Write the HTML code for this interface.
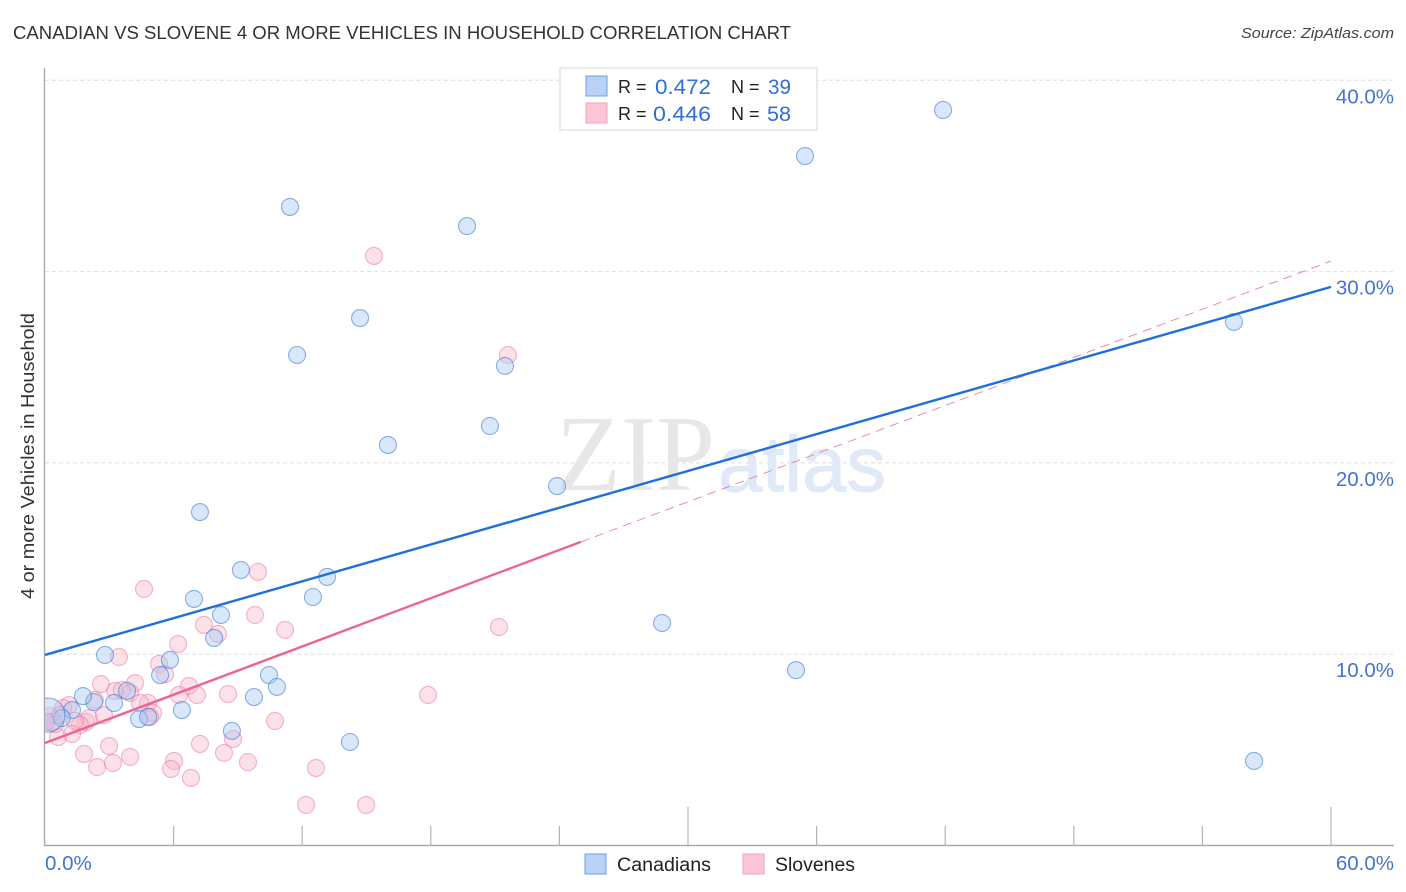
<!DOCTYPE html>
<html lang="en">
<head>
<meta charset="utf-8">
<title>Canadian vs Slovene 4 or more Vehicles in Household Correlation Chart</title>
<style>
html,body{margin:0;padding:0;background:#fff;width:1406px;height:892px;overflow:hidden}
svg{display:block;font-family:"Liberation Sans",sans-serif}
</style>
</head>
<body>
<svg id="chart" xmlns="http://www.w3.org/2000/svg" width="1406" height="892" viewBox="0 0 1406 892">
  <defs><clipPath id="plot-clip"><rect x="45" y="60" width="1350" height="785"/></clipPath></defs>
  <text x="13" y="39" font-size="18.5" fill="#333" textLength="778" lengthAdjust="spacingAndGlyphs">CANADIAN VS SLOVENE 4 OR MORE VEHICLES IN HOUSEHOLD CORRELATION CHART</text>
  <text x="1394" y="38" font-size="15" font-style="italic" fill="#444" text-anchor="end" textLength="153" lengthAdjust="spacingAndGlyphs">Source: ZipAtlas.com</text>
  <text transform="translate(34,456) rotate(-90)" font-size="18.5" fill="#333" text-anchor="middle" textLength="286" lengthAdjust="spacingAndGlyphs">4 or more Vehicles in Household</text>
  <g id="grid"></g>
  <text x="556" y="490" font-family="Liberation Serif, serif" font-size="108" fill="#e7e7e7" textLength="159" lengthAdjust="spacingAndGlyphs">ZIP</text>
  <text x="718" y="491" font-family="Liberation Sans, sans-serif" font-size="78" fill="#dfe9f8" stroke="#dfe9f8" stroke-width="1" textLength="168" lengthAdjust="spacingAndGlyphs">atlas</text>
  <g id="axes"></g>
  <g id="points" clip-path="url(#plot-clip)"></g>
  <g id="trends"></g>
  <g id="ylabels"></g>
  <text x="45" y="870" font-size="20.5" fill="#4275d2">0.0%</text>
  <text x="1394" y="870" font-size="20.5" fill="#4275d2" text-anchor="end">60.0%</text>
  <g>
    <rect x="560" y="68" width="257" height="62" fill="#fff" stroke="#dcdcdc" stroke-width="1.2"/>
    <rect x="586" y="76" width="21" height="20" fill="#b7d2f6" stroke="#6f9fdf" stroke-width="1"/>
    <rect x="586" y="103" width="21" height="20" fill="#fcc6d8" stroke="#f3a3bd" stroke-width="1"/>
    <text x="618" y="93" font-size="18" fill="#222">R =</text>
    <text x="655" y="94" font-size="21" fill="#2f6fd6" textLength="56" lengthAdjust="spacingAndGlyphs">0.472</text>
    <text x="731" y="93" font-size="18" fill="#222">N =</text>
    <text x="768" y="94" font-size="21" fill="#2f6fd6" textLength="23" lengthAdjust="spacingAndGlyphs">39</text>
    <text x="618" y="120" font-size="18" fill="#222">R =</text>
    <text x="653" y="121" font-size="21" fill="#2f6fd6" textLength="58" lengthAdjust="spacingAndGlyphs">0.446</text>
    <text x="731" y="120" font-size="18" fill="#222">N =</text>
    <text x="767" y="121" font-size="21" fill="#2f6fd6" textLength="24" lengthAdjust="spacingAndGlyphs">58</text>
  </g>
  <g>
    <rect x="585" y="854" width="21" height="20" fill="#b7d2f6" stroke="#6f9fdf" stroke-width="1"/>
    <text x="617" y="871" font-size="19" fill="#222" textLength="94" lengthAdjust="spacingAndGlyphs">Canadians</text>
    <rect x="743" y="854" width="21" height="20" fill="#fcc6d8" stroke="#f3a3bd" stroke-width="1"/>
    <text x="775" y="871" font-size="19" fill="#222" textLength="80" lengthAdjust="spacingAndGlyphs">Slovenes</text>
  </g>
</svg>
<script>
const yTickValues = [10, 20, 30, 40];
const yTickLabels = ["10.0%", "20.0%", "30.0%", "40.0%"];
const xTickValues = [6, 12, 18, 24, 30, 36, 42, 48, 54, 60];
const xMajorTicks = [30, 60];
const canadiansX = [41.90,35.46,11.43,19.69,14.70,11.76,21.46,20.76,16.00,23.89,7.23,9.14,13.16,6.95,12.50,8.21,7.89,28.79,2.80,5.83,5.37,35.04,10.45,10.82,9.75,6.39,55.47,56.41,14.23,8.72,4.39,4.81,3.22,2.29,1.77,3.83,1.26,0.79,0.14];
const canadiansY = [38.45,36.04,33.38,32.38,27.57,25.64,25.07,21.93,20.94,18.79,17.43,14.40,14.04,12.89,12.99,12.05,10.85,11.63,9.96,9.70,8.91,9.17,8.91,8.29,7.76,7.08,27.37,4.42,5.41,5.99,6.61,6.72,7.45,7.50,7.81,8.08,7.08,6.66,6.82];
const canadiansWeight = [1,1,1,1,1,1,1,1,1,1,1,1,1,1,1,1,1,1,1,1,1,1,1,1,1,1,1,1,1,1,1,1,1,1,1,1,1,1,2.0];
const slovenesX = [15.35,21.60,9.94,4.62,9.80,7.42,8.07,11.20,21.18,6.21,3.45,5.32,5.60,2.61,4.20,6.72,6.25,7.09,8.54,17.87,3.27,3.59,3.97,4.81,4.43,2.33,1.12,1.91,2.05,2.75,1.63,1.40,5.04,4.90,10.73,8.77,7.23,8.35,2.99,1.82,3.97,3.17,2.43,9.47,6.02,5.88,6.81,12.64,12.18,14.98,0.61,1.26,0.47,0.23,0.84,0.33,0.70,0.05];
const slovenesY = [30.82,25.64,14.30,13.41,12.05,11.53,11.06,11.27,11.42,10.53,9.85,9.49,8.96,8.44,8.49,8.34,7.87,7.87,7.92,7.87,8.08,8.13,7.97,7.45,7.45,7.61,7.34,6.46,6.66,6.82,6.30,6.51,6.93,6.72,6.51,5.57,5.31,4.84,5.20,4.78,4.63,4.31,4.10,4.36,4.42,4.00,3.53,4.05,2.12,2.12,5.67,5.83,6.35,6.77,7.19,6.46,6.82,6.46];
const canadiansTrendX = [0, 60];
const canadiansTrendY = [9.96, 29.2];
const slovenesTrendX = [0, 25];
const slovenesTrendY = [5.36, 15.87];
const slovenesProjectionX = [25, 60];
const slovenesProjectionY = [15.87, 30.55];

const NS = "http://www.w3.org/2000/svg";
function sx(v) { return 45 + v * (1286 / 60); }
function sy(v) { return 845.5 - v * 19.13; }
function mk(parent, tag, attrs) {
  const el = document.createElementNS(NS, tag);
  for (const k in attrs) el.setAttribute(k, attrs[k]);
  parent.appendChild(el);
  return el;
}
const grid = document.getElementById("grid");
const axes = document.getElementById("axes");
const points = document.getElementById("points");
const trends = document.getElementById("trends");
const ylabels = document.getElementById("ylabels");

yTickValues.forEach(function (v, i) {
  const line = mk(grid, "line", {x1: 45, x2: 1393, y1: sy(v), y2: sy(v), stroke: "#dedede", "stroke-width": 1, "stroke-dasharray": "4 3"});
  
  
  const t = mk(ylabels, "text", {x: 1394, y: sy(v) + 23, "font-size": 20.5, fill: "#4275d2", "text-anchor": "end"});
  t.textContent = yTickLabels[i];
  
  
});

const yAxis = mk(axes, "line", {x1: 44.5, x2: 44.5, y1: 68, y2: 846, stroke: "#aaa", "stroke-width": 1.4});


const xAxis = mk(axes, "line", {x1: 44, x2: 1394, y1: 845.5, y2: 845.5, stroke: "#aaa", "stroke-width": 1.4});


xTickValues.forEach(function (v) {
  const top = xMajorTicks.includes(v) ? 807 : 826;
  const tick = mk(axes, "line", {x1: sx(v), x2: sx(v), y1: top, y2: 845.5, stroke: "#b5b5b5", "stroke-width": 1.2});
  
  
});

slovenesX.forEach(function (v, i) {
  const c = mk(points, "circle", {cx: sx(v), cy: sy(slovenesY[i]), r: 8.5, fill: "#f8b3c9", "fill-opacity": 0.4, stroke: "#e8709a", "stroke-opacity": 0.5, "stroke-width": 1.1});
  
  
});
canadiansX.forEach(function (v, i) {
  const c = mk(points, "circle", {cx: sx(v), cy: sy(canadiansY[i]), r: 8.5 * canadiansWeight[i], fill: "#a9caf3", "fill-opacity": 0.45, stroke: "#2f75d6", "stroke-opacity": 0.55, "stroke-width": 1.1});
  
  
});

const pinkDash = mk(trends, "line", {x1: sx(slovenesProjectionX[0]), y1: sy(slovenesProjectionY[0]), x2: sx(slovenesProjectionX[1]), y2: sy(slovenesProjectionY[1]), stroke: "#ea7fa2", "stroke-width": 0.9, "stroke-dasharray": "9 6"});


const pinkLine = mk(trends, "line", {x1: sx(slovenesTrendX[0]), y1: sy(slovenesTrendY[0]), x2: sx(slovenesTrendX[1]), y2: sy(slovenesTrendY[1]), stroke: "#ea6593", "stroke-width": 2.4});


const blueLine = mk(trends, "line", {x1: sx(canadiansTrendX[0]), y1: sy(canadiansTrendY[0]), x2: sx(canadiansTrendX[1]), y2: sy(canadiansTrendY[1]), stroke: "#1f6fd8", "stroke-width": 2.4});


</script>
</body>
</html>
